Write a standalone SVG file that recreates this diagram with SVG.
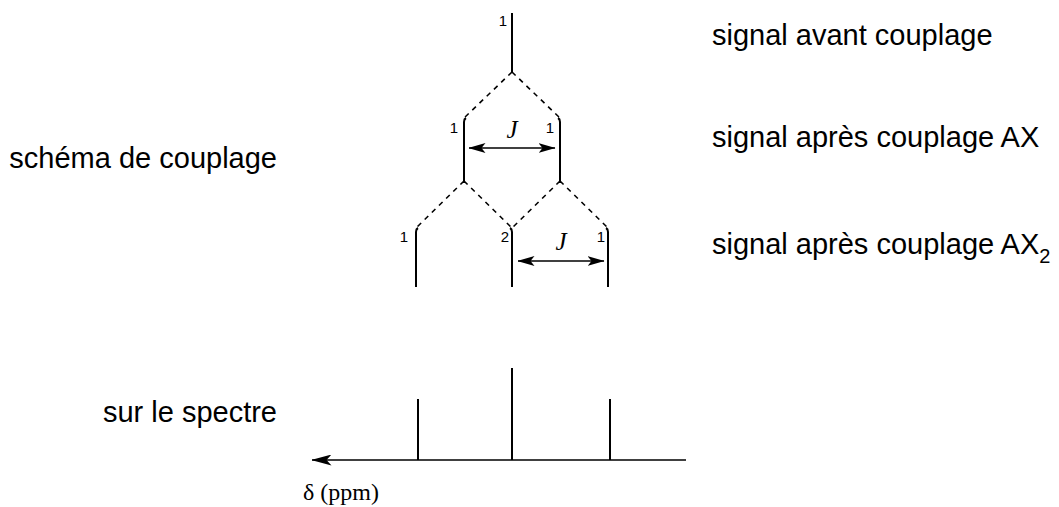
<svg xmlns="http://www.w3.org/2000/svg" width="1059" height="507" viewBox="0 0 1059 507">
<defs>
<style>
.t{font-family:"Liberation Sans",Arial,sans-serif;font-size:29px;fill:#000}
.n{font-family:"Liberation Sans",Arial,sans-serif;font-size:15px;fill:#000}
.j{font-family:"Liberation Serif","Times New Roman",serif;font-style:italic;font-size:25px;fill:#000}
.d{font-family:"Liberation Serif","Times New Roman",serif;font-size:24px;fill:#000}
.s{stroke:#000;stroke-width:2;fill:none}
.dash{stroke:#000;stroke-width:1.6;fill:none;stroke-dasharray:5,5}
.ax{stroke:#000;stroke-width:1.6;fill:none}
</style>
<marker id="ah" viewBox="0 0 17 10" refX="16.5" refY="5" markerWidth="17" markerHeight="10" markerUnits="userSpaceOnUse" orient="auto-start-reverse">
<path d="M0,0 L17,5 L0,10 L4,5 Z" fill="#000"/>
</marker>
<marker id="ah2" viewBox="0 0 20 11" refX="19.5" refY="5.5" markerWidth="20" markerHeight="11" markerUnits="userSpaceOnUse" orient="auto">
<path d="M0,0 L20,5.5 L0,11 L5,5.5 Z" fill="#000"/>
</marker>
</defs>
<rect width="1059" height="507" fill="#fff"/>
<g id="labels">
<text class="t" x="712" y="45">signal avant couplage</text>
<text class="t" x="712" y="147">signal après couplage AX</text>
<text class="t" x="712" y="254">signal après couplage AX<tspan font-size="20" dy="9">2</tspan></text>
<text class="t" x="277" y="168" text-anchor="end">schéma de couplage</text>
<text class="t" x="277" y="422" text-anchor="end">sur le spectre</text>
</g>
<g id="connectors">
<path class="dash" d="M512,72 L464,118 M512,72 L560,118"/>
<path class="dash" d="M464,181 L416,228 M464,181 L512,228 M560,181 L512,228 M560,181 L608,228"/>
<line class="ax" x1="469" y1="148" x2="555" y2="148" marker-start="url(#ah)" marker-end="url(#ah)"/>
<line class="ax" x1="518" y1="261" x2="604" y2="261" marker-start="url(#ah)" marker-end="url(#ah)"/>
</g>
<g id="level0">
<line class="s" x1="512" y1="13" x2="512" y2="72"/>
<text class="n" x="507" y="26" text-anchor="end">1</text>
</g>
<g id="level1">
<path class="s" d="M466,118 Q464,119 464,122 L464,181"/>
<path class="s" d="M558,118 Q560,119 560,122 L560,181"/>
<text class="n" x="458" y="133" text-anchor="end">1</text>
<text class="n" x="554" y="133" text-anchor="end">1</text>
<text class="j" x="512" y="138" text-anchor="middle">J</text>
</g>
<g id="level2">
<path class="s" d="M418,228 Q416,229 416,232 L416,287"/>
<path class="s" d="M510,228 Q512,229 512,232 L512,287"/>
<path class="s" d="M606,228 Q608,229 608,232 L608,287"/>
<text class="n" x="408" y="242" text-anchor="end">1</text>
<text class="n" x="509" y="242" text-anchor="end">2</text>
<text class="n" x="605" y="242" text-anchor="end">1</text>
<text class="j" x="561" y="250" text-anchor="middle">J</text>
</g>
<g id="spectrum">
<line class="ax" x1="686" y1="460" x2="312" y2="460" marker-end="url(#ah2)"/>
<line class="s" x1="418" y1="399" x2="418" y2="460"/>
<line class="s" x1="512" y1="368" x2="512" y2="460"/>
<line class="s" x1="610" y1="399" x2="610" y2="460"/>
<text class="d" x="303" y="500">δ (ppm)</text>
</g>
</svg>
